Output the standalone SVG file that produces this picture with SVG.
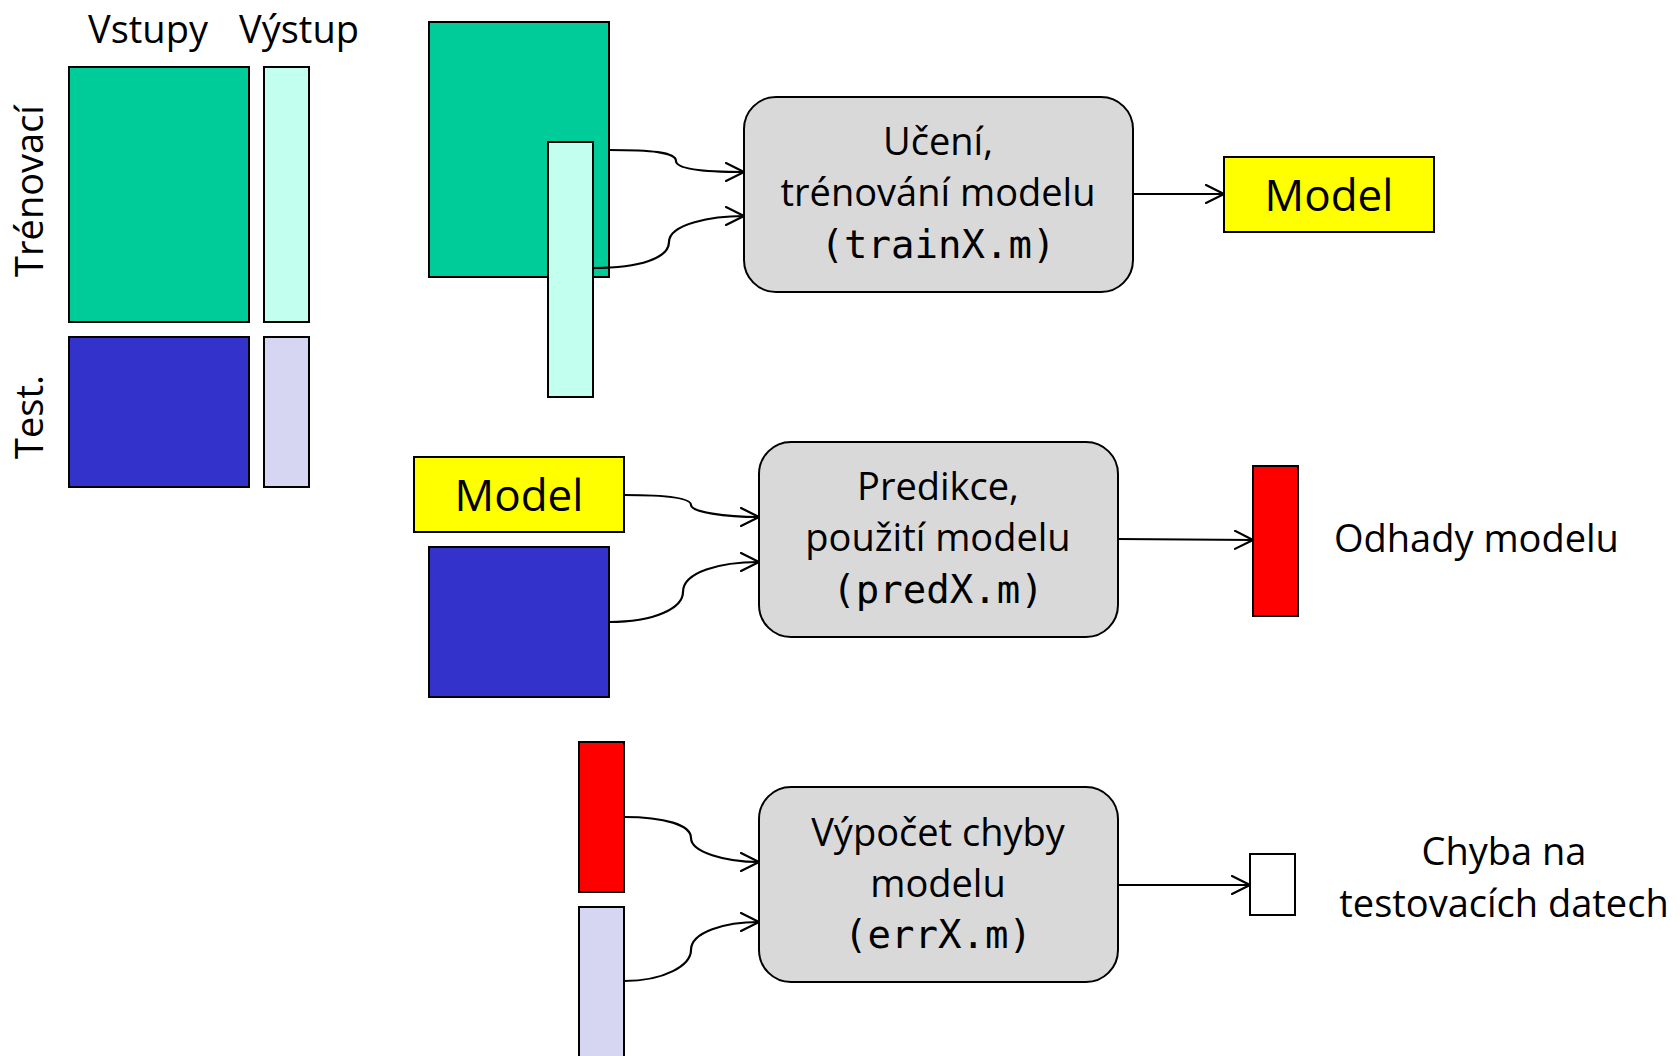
<svg xmlns="http://www.w3.org/2000/svg" width="1680" height="1056" viewBox="0 0 1680 1056">
<style>
  .t{font-family:"Open Sans","Noto Sans","DejaVu Sans",sans-serif;font-size:38px;fill:#000}
  .m{font-family:"DejaVu Sans Mono","Liberation Mono",monospace;font-size:39px;fill:#000}
  .c{text-anchor:middle}
  .blk{stroke:#000;stroke-width:2}
  .box{fill:#D9D9D9;stroke:#000;stroke-width:2}
  .con{fill:none;stroke:#000;stroke-width:2.2}
</style>
<defs>
  <marker id="arr" viewBox="0 0 20 20" markerWidth="20" markerHeight="20" refX="19" refY="10" orient="auto" markerUnits="userSpaceOnUse">
    <path d="M1,1 L19,10 L1,19" fill="none" stroke="#000" stroke-width="2.2" stroke-linecap="round" stroke-linejoin="round"/>
  </marker>
</defs>
<rect width="1680" height="1056" fill="#fff"/>

<g id="legend">
  <text class="t c" x="148" y="43">Vstupy</text>
  <text class="t c" x="299" y="43">Výstup</text>
  <text class="t c" transform="translate(43,191) rotate(-90)">Trénovací</text>
  <text class="t c" transform="translate(43,417) rotate(-90)">Test.</text>
  <rect class="blk" x="69" y="67" width="180" height="255" fill="#00CC99"/>
  <rect class="blk" x="264" y="67" width="45" height="255" fill="#C2FFEE"/>
  <rect class="blk" x="69" y="337" width="180" height="150" fill="#3333CC"/>
  <rect class="blk" x="264" y="337" width="45" height="150" fill="#D6D6F2"/>
</g>

<g id="train-inputs">
  <rect class="blk" x="429" y="22" width="180" height="255" fill="#00CC99"/>
  <rect class="blk" x="548" y="142" width="45" height="255" fill="#C2FFEE"/>
</g>

<g id="train-box">
  <rect class="box" x="744" y="97" width="389" height="195" rx="32" ry="32"/>
  <text class="t c" x="938" y="155">Učení,</text>
  <text class="t c" x="938" y="206">trénování modelu</text>
  <text class="m c" x="938" y="258">(trainX.m)</text>
</g>

<g id="model-out">
  <rect class="blk" x="1224" y="157" width="210" height="75" fill="#FFFF00"/>
  <text class="t c" x="1329" y="211" style="font-size:44px">Model</text>
</g>

<g id="model-in">
  <rect class="blk" x="414" y="457" width="210" height="75" fill="#FFFF00"/>
  <text class="t c" x="519" y="511" style="font-size:44px">Model</text>
</g>

<g id="test-inputs">
  <rect class="blk" x="429" y="547" width="180" height="150" fill="#3333CC"/>
</g>

<g id="pred-box">
  <rect class="box" x="759" y="442" width="359" height="195" rx="32" ry="32"/>
  <text class="t c" x="938" y="500">Predikce,</text>
  <text class="t c" x="938" y="551">použití modelu</text>
  <text class="m c" x="938" y="603">(predX.m)</text>
</g>

<g id="estimates">
  <rect class="blk" x="1253" y="466" width="45" height="150" fill="#FF0000"/>
  <text class="t" x="1334" y="552">Odhady modelu</text>
</g>

<g id="err-inputs">
  <rect class="blk" x="579" y="742" width="45" height="150" fill="#FF0000"/>
  <rect class="blk" x="579" y="907" width="45" height="152" fill="#D6D6F2"/>
</g>

<g id="err-box">
  <rect class="box" x="759" y="787" width="359" height="195" rx="32" ry="32"/>
  <text class="t c" x="938" y="846">Výpočet chyby</text>
  <text class="t c" x="938" y="897">modelu</text>
  <text class="m c" x="938" y="948">(errX.m)</text>
</g>

<g id="error-out">
  <rect class="blk" x="1250" y="854" width="45" height="61" fill="#FFFFFF"/>
  <text class="t c" x="1504" y="865">Chyba na</text>
  <text class="t c" x="1504" y="917">testovacích datech</text>
</g>

<g id="connectors">
  <path class="con" marker-end="url(#arr)" d="M609,150 C650,150 676,152 676,161 C676,170 712,172 744,172"/>
  <path class="con" marker-end="url(#arr)" d="M594,268 C640,268 669,258 669,242 C669,224 712,216 744,216"/>
  <path class="con" marker-end="url(#arr)" d="M1133,194 L1224,194"/>
  <path class="con" marker-end="url(#arr)" d="M624,495 C665,495 691,498 691,505 C691,512 725,517 759,517"/>
  <path class="con" marker-end="url(#arr)" d="M609,622 C655,622 683,608 683,592 C683,572 720,562 759,562"/>
  <path class="con" marker-end="url(#arr)" d="M1118,539 L1253,540"/>
  <path class="con" marker-end="url(#arr)" d="M624,817 C665,817 691,825 691,838 C691,852 725,862 759,862"/>
  <path class="con" marker-end="url(#arr)" d="M624,981 C665,981 691,965 691,950 C691,932 725,922 759,922"/>
  <path class="con" marker-end="url(#arr)" d="M1118,885 L1250,885"/>
</g>
</svg>
